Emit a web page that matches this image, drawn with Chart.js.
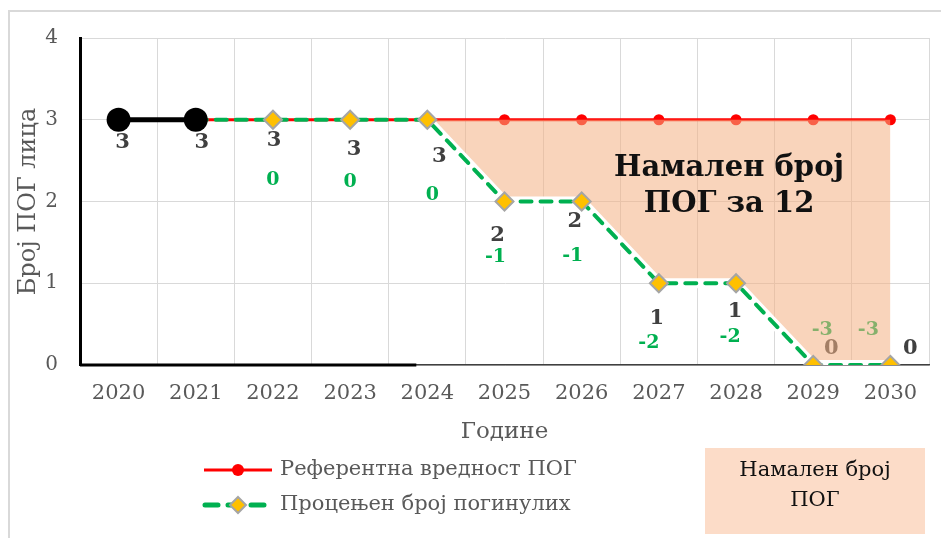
<!DOCTYPE html>
<html><head><meta charset="utf-8">
<script src="https://cdn.jsdelivr.net/npm/chart.js@4.4.1/dist/chart.umd.min.js"></script>
<style>html,body{margin:0;padding:0;background:#fff;overflow:hidden}canvas{display:block}</style>
</head><body>
<canvas id="c" width="941" height="538"></canvas>
<script>
// ---- data ----
const years = ['2020','2021','2022','2023','2024','2025','2026','2027','2028','2029','2030'];
const actualDeaths = [3,3,null,null,null,null,null,null,null,null,null];
const referenceValue = [null,3,3,3,3,3,3,3,3,3,3];
const estimatedDeaths = [null,3,3,3,3,2,2,1,1,0,0];
const reductionVsReference = [null,null,0,0,0,-1,-1,-2,-2,-3,-3];
const reducedAreaTop = [null,null,null,null,3,3,3,3,3,3,3];
const yTickValues = [0,1,2,3,4];
const totalReduction = 12;

const SERIF = '"DejaVu Serif", "Liberation Serif", serif';
const GRAY = '#595959';

// label offsets (style only)
const valOff = [[4,23],[6,23],[1,21],[4,30],[12,37],[-7,34],[-7,20],[-2,35],[-1,28],[18,-16],[20,-16]];
const difOff = [null,null,[0,60],[0,62],[5,75],[-9,56],[-9,55],[-10,60],[-6,54],[9,-35],[-22,-35]];

const overlay = {
  id: 'overlay',
  beforeDraw(chart) {
    const ctx = chart.ctx;
    ctx.save();
    ctx.fillStyle = '#fff';
    ctx.fillRect(0, 0, chart.width, chart.height);
    ctx.strokeStyle = '#d9d9d9';
    ctx.lineWidth = 2;
    ctx.strokeRect(9, 11, chart.width + 40, chart.height + 40);
    ctx.restore();
  },
  beforeDatasetsDraw(chart) {
    const ctx = chart.ctx, xs = chart.scales.x, ys = chart.scales.y;
    ctx.save();
    ctx.textAlign = 'center';
    ctx.textBaseline = 'middle';
    years.forEach((yr, i) => {
      const v = actualDeaths[i] !== null ? actualDeaths[i] : estimatedDeaths[i];
      if (v === null) return;
      const px = xs.getPixelForValue(i), py = ys.getPixelForValue(v);
      ctx.font = 'bold 21px ' + SERIF;
      ctx.fillStyle = '#404040';
      ctx.fillText(String(v), px + valOff[i][0], py + valOff[i][1]);
      const d = reductionVsReference[i];
      if (d !== null) {
        ctx.font = 'bold 19px ' + SERIF;
        ctx.fillStyle = '#00B050';
        ctx.fillText(String(d), px + difOff[i][0], py + difOff[i][1]);
      }
    });
    ctx.restore();
  },
  afterDatasetsDraw(chart) {
    const ctx = chart.ctx, xs = chart.scales.x, ys = chart.scales.y, a = chart.chartArea;
    ctx.save();
    // black part of x axis
    ctx.strokeStyle = '#000';
    ctx.lineWidth = 3;
    ctx.beginPath();
    ctx.moveTo(a.left, a.bottom);
    ctx.lineTo(xs.getPixelForValue(4) - 11, a.bottom);
    ctx.stroke();
    // annotation
    const cx = xs.getPixelForValue(8) - 7;
    ctx.fillStyle = '#111';
    ctx.textAlign = 'center';
    ctx.textBaseline = 'middle';
    ctx.font = 'bold 29px ' + SERIF;
    ctx.fillText('Намален број', cx, 168);
    ctx.fillText('ПОГ за ' + totalReduction, cx, 204);
    // legend
    ctx.strokeStyle = '#FF0000';
    ctx.lineWidth = 3;
    ctx.beginPath(); ctx.moveTo(204, 470); ctx.lineTo(272, 470); ctx.stroke();
    ctx.fillStyle = '#FF0000';
    ctx.beginPath(); ctx.arc(238, 470, 6, 0, Math.PI * 2); ctx.fill();
    ctx.strokeStyle = '#00B050';
    ctx.lineWidth = 5;
    ctx.lineCap = 'round';
    ctx.setLineDash([13, 10]);
    ctx.beginPath(); ctx.moveTo(205, 505); ctx.lineTo(268, 505); ctx.stroke();
    ctx.setLineDash([]);
    ctx.fillStyle = '#FFC000';
    ctx.strokeStyle = '#A5A5A5';
    ctx.lineWidth = 2;
    ctx.beginPath();
    ctx.moveTo(238, 497); ctx.lineTo(246, 505); ctx.lineTo(238, 513); ctx.lineTo(230, 505); ctx.closePath();
    ctx.fill(); ctx.stroke();
    ctx.fillStyle = GRAY;
    ctx.textAlign = 'left';
    ctx.font = '21px ' + SERIF;
    ctx.fillText('Референтна вредност ПОГ', 280, 470);
    ctx.fillText('Процењен број погинулих', 280, 505);
    // legend box for area
    ctx.fillStyle = '#FCDCC8';
    ctx.fillRect(705, 448, 220, 86);
    ctx.fillStyle = '#111';
    ctx.textAlign = 'center';
    ctx.font = '21px ' + SERIF;
    ctx.fillText('Намален број', 815, 471);
    ctx.fillText('ПОГ', 815, 501);
    ctx.restore();
  }
};

new Chart(document.getElementById('c'), {
  type: 'line',
  data: {
    labels: years,
    datasets: [
      { label: 'actual', data: actualDeaths, borderColor: '#000', backgroundColor: '#000',
        borderWidth: 5, pointRadius: 12, pointBorderWidth: 0, order: 0 },
      { label: 'Процењен број погинулих', data: estimatedDeaths, borderColor: '#00B050',
        borderWidth: 4, borderDash: [11, 9], borderCapStyle: 'round',
        pointStyle: 'rectRot', pointRadius: years.map((y, i) => i < 2 ? 0 : 9),
        pointBackgroundColor: '#FFC000', pointBorderColor: '#A5A5A5', pointBorderWidth: 2, order: 1 },
      { label: 'halo', data: estimatedDeaths.map((v, i) => i >= 4 ? v : null), borderColor: '#fff',
        borderWidth: 10, pointRadius: 0, order: 2 },
      { label: 'area', data: reducedAreaTop, borderWidth: 0, borderColor: 'rgba(0,0,0,0)',
        pointRadius: 0, fill: { target: 1 }, backgroundColor: 'rgba(244,177,131,0.55)', order: 3 },
      { label: 'Референтна вредност ПОГ', data: referenceValue, borderColor: '#FF0000',
        backgroundColor: '#FF0000', borderWidth: 3, pointRadius: years.map((y, i) => i < 5 ? 0 : 5.5),
        pointBorderWidth: 0, order: 4 }
    ]
  },
  options: {
    responsive: false,
    animation: false,
    devicePixelRatio: 1,
    layout: { padding: { left: 12, top: 38, right: 8, bottom: 89 } },
    plugins: { legend: { display: false }, tooltip: { enabled: false } },
    scales: {
      x: {
        offset: true,
        grid: { offset: true, color: '#d9d9d9', lineWidth: 1, drawTicks: false },
        border: { color: '#404040', width: 1.5 },
        ticks: { color: GRAY, font: { family: SERIF, size: 21 }, padding: 16, maxRotation: 0 },
        title: { display: true, text: 'Године', color: GRAY, font: { family: SERIF, size: 23 }, padding: { top: 4, bottom: 3 } },
        afterFit(s) { s.height = 84; }
      },
      y: {
        min: 0, max: 4,
        afterBuildTicks(s) { s.ticks = yTickValues.map(v => ({ value: v })); },
        grid: { color: '#d9d9d9', lineWidth: 1, drawTicks: false },
        border: { color: '#000', width: 3 },
        ticks: { color: GRAY, font: { family: SERIF, size: 20 }, padding: 22 },
        title: { display: true, text: 'Број ПОГ лица', color: GRAY, font: { family: SERIF, size: 24 }, padding: { top: 2, bottom: 4 } },
        afterFit(s) { s.width = 68; }
      }
    }
  },
  plugins: [overlay]
});
</script>
</body></html>
